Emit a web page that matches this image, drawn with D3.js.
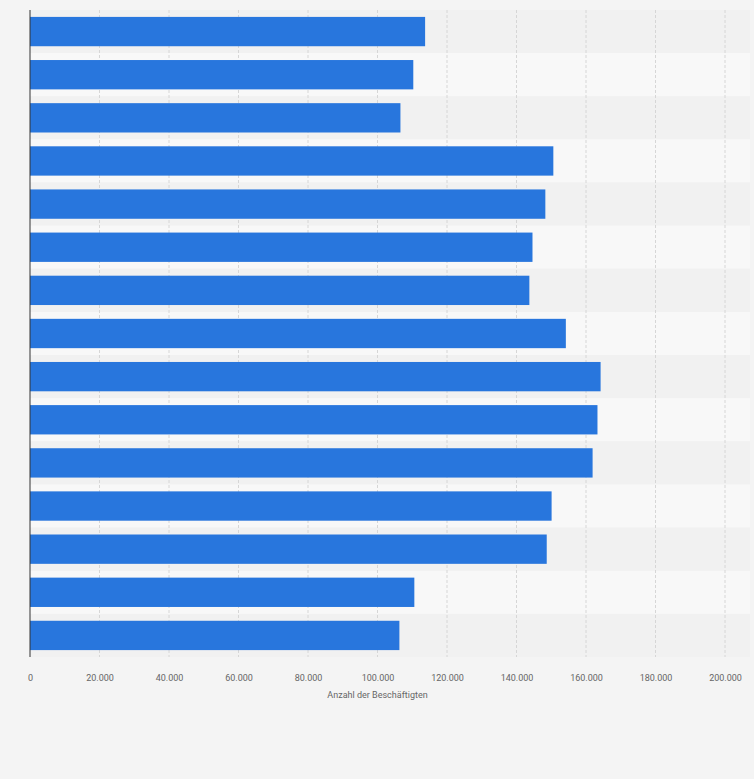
<!DOCTYPE html>
<html><head><meta charset="utf-8">
<script src="https://d3js.org/d3.v7.min.js"></script>
<style>body{margin:0;background:#f4f4f4;font-family:Roboto,"Liberation Sans",sans-serif}</style>
</head><body><svg id="c" width="754" height="779"></svg>
<script>
const categories = ["1","2","3","4","5","6","7","8","9","10","11","12","13","14","15"];
const values = [113700,110300,106600,150600,148300,144600,143700,154200,164200,163300,161900,150100,148700,110600,106300];
const tickValues = [0,20000,40000,60000,80000,100000,120000,140000,160000,180000,200000];
const axisTitle = "Anzahl der Beschäftigten";

const svg = d3.select("#c");
const m = {l:30, r:29, t:10, b:122};
const W = 754, H = 779;
const x = d3.scaleLinear().domain([0,200000]).range([m.l, W-m.r]);
const y = d3.scaleBand().domain(categories).range([m.t, H-m.b]).paddingInner(0.32).paddingOuter(0.16);
const band = d3.scaleBand().domain(categories).range([m.t, H-m.b]);

svg.append("g").selectAll("rect").data(categories).join("rect")
  .attr("x", m.l).attr("width", W-m.r-m.l+25)
  .attr("y", d=>band(d)).attr("height", band.bandwidth())
  .attr("fill", (d,i)=> i%2===0 ? "#f1f1f1" : "#f8f8f8");

svg.append("g").selectAll("line").data(tickValues.slice(1)).join("line")
  .attr("x1", d=>x(d)).attr("x2", d=>x(d)).attr("y1", m.t).attr("y2", H-m.b)
  .attr("stroke","#d6d6d6").attr("stroke-dasharray","3,2");

svg.append("g").selectAll("rect").data(values).join("rect")
  .attr("x", x(0)).attr("y",(d,i)=>y(categories[i]))
  .attr("width", d=>x(d)-x(0)).attr("height", y.bandwidth())
  .attr("fill","#2876dd");

svg.append("line").attr("x1",m.l).attr("x2",m.l).attr("y1",m.t).attr("y2",H-m.b)
  .attr("stroke","#333").attr("stroke-width",1);

const ax = svg.append("g").attr("transform",`translate(0,${H-m.b})`)
  .call(d3.axisBottom(x).tickValues(tickValues).tickSize(0).tickPadding(18)
    .tickFormat(d=>d3.format(",")(d).replace(/,/g,".")));
ax.select(".domain").remove();
ax.selectAll("text").attr("fill","#666").attr("font-size","9px").attr("font-family","Roboto,sans-serif");

svg.append("text").attr("x", x(100000)).attr("y", 698).attr("text-anchor","middle")
  .attr("fill","#666").attr("font-size","9px").text(axisTitle);
</script></body></html>
